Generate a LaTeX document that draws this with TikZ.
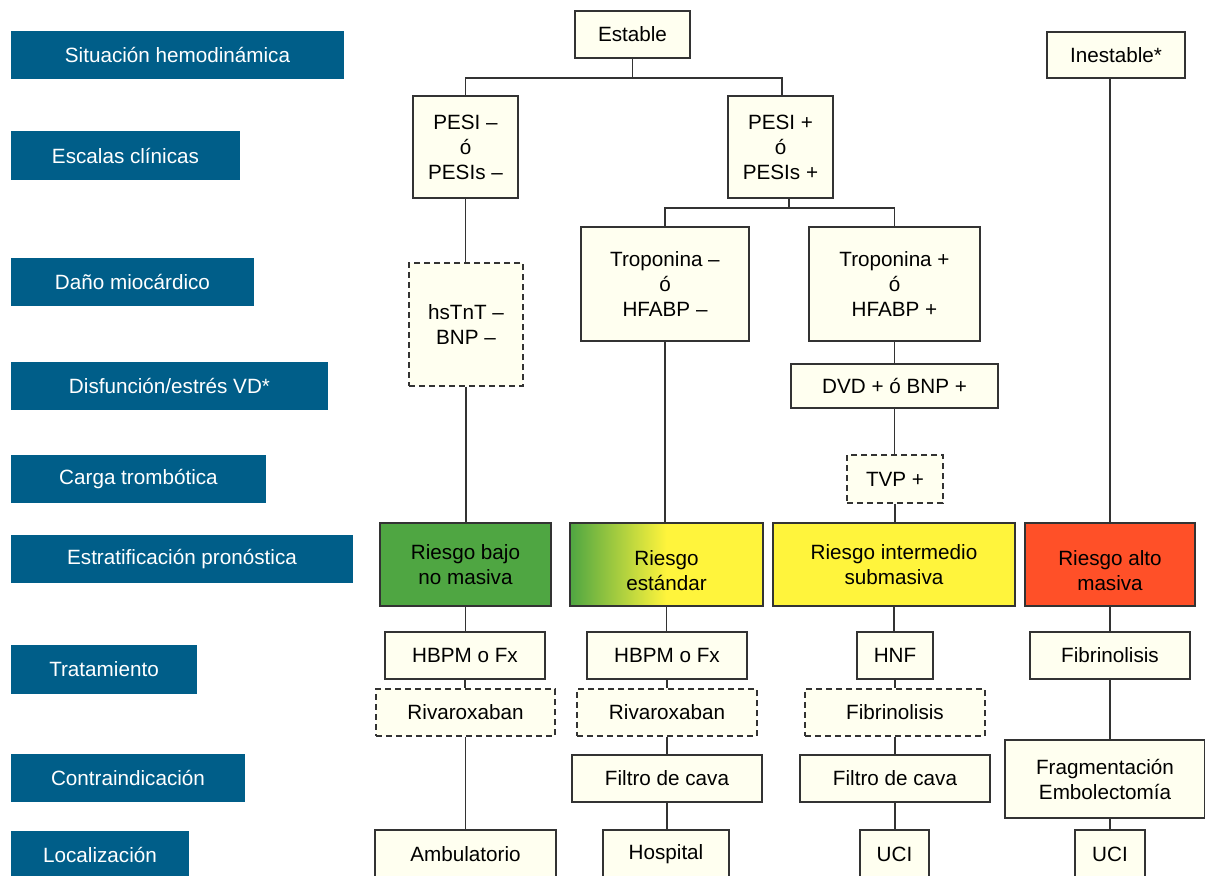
\documentclass[tikz,border=0pt]{standalone}
\usepackage{fontspec}
\setmainfont{Liberation Sans}
\usetikzlibrary{calc}
\definecolor{lblue}{HTML}{005E89}
\definecolor{cream}{HTML}{FFFFF0}
\definecolor{rgreen}{HTML}{4FA642}
\definecolor{ryellow}{HTML}{FFF43C}
\definecolor{rred}{HTML}{FF5028}
\definecolor{edge}{HTML}{333333}
\newcommand{\lowtext}[1]{\raisebox{-6pt}[\height][\depth]{\begin{tabular}{@{}c@{}}#1\end{tabular}}}
\tikzset{
  wh/.style 2 args={minimum width=#1*0.75pt, minimum height=#2*0.75pt},
  lbl/.style={fill=lblue, text=white, inner sep=0pt, align=center, font=\fontsize{15.5}{18.75}\selectfont},
  box/.style={draw=edge, fill=cream, line width=0.95pt, inner sep=0pt, align=center, font=\fontsize{15.5}{18.75}\selectfont},
  dbox/.style={box, dash pattern=on 4.5pt off 3pt},
  link/.style={draw=edge, line width=0.95pt},
}
\begin{document}
\begin{tikzpicture}[x=0.75pt,y=-0.75pt]
\useasboundingbox (0,0) rectangle (1205,875);
\clip (0,0) rectangle (1205,875);
% left labels
\node[lbl, wh={333}{48}] (l1) at (177.5,55) {Situación hemodinámica};
\node[lbl, wh={229}{49}] (l2) at (125.5,155.5) {Escalas clínicas};
\node[lbl, wh={243}{48}] (l3) at (132.5,282) {Daño miocárdico};
\node[lbl, wh={317}{48}] (l4) at (169.5,386) {Disfunción/estrés VD*};
\node[lbl, wh={255}{48}] (l5) at (138.5,479) {Carga trombótica};
\node[lbl, wh={342}{48}] (l6) at (182,559) {Estratificación pronóstica};
\node[lbl, wh={186}{49}] (l7) at (104,669.5) {Tratamiento};
\node[lbl, wh={234}{48}] (l8) at (128,778) {Contraindicación};
\node[lbl, wh={178}{48}] (l9) at (100,855) {Localización};
% top
\node[box, wh={115}{47}] (est) at (632.5,34.5) {Estable};
\node[box, wh={138}{46}] (ine) at (1116,55) {Inestable*};
\node[box, wh={105}{102}] (pm) at (465.5,147) {PESI –\\ó\\PESIs –};
\node[box, wh={105}{102}] (pp) at (780.5,147) {PESI +\\ó\\PESIs +};
\node[dbox, wh={114}{123}] (hs) at (466,324.5) {hsTnT –\\BNP –};
\node[box, wh={168}{114}] (tm) at (665,284) {Troponina –\\ó\\HFABP –};
\node[box, wh={171}{114}] (tp) at (894.5,284) {Troponina +\\ó\\HFABP +};
\node[box, wh={207}{44}] (dvd) at (894.5,386) {DVD + ó BNP +};
\node[dbox, wh={96}{48}] (tvp) at (895,479) {TVP +};
% risk
\node[box, fill=rgreen, wh={171}{83}] (rb) at (465.5,564.5) {Riesgo bajo\\no masiva};
\node[box, fill=ryellow, wh={193}{83},
  path picture={
    \path (path picture bounding box.south west) coordinate (sw)
          (path picture bounding box.north east) coordinate (ne);
    \shade[left color=rgreen, right color=ryellow] (sw) rectangle ($(sw|-ne)!0.5!(ne)$);
  }] (re) at (666.5,564.5) {\lowtext{Riesgo\\estándar}};
\node[box, fill=ryellow, wh={242}{83}] (ri) at (894,564.5) {Riesgo intermedio\\submasiva};
\node[box, fill=rred, wh={170}{83}] (ra) at (1110,564.5) {\lowtext{Riesgo alto\\masiva}};
% treatment
\node[box, wh={160}{47}] (hb1) at (465,655.5) {HBPM o Fx};
\node[box, wh={160}{47}] (hb2) at (667,655.5) {HBPM o Fx};
\node[box, wh={76}{47}] (hnf) at (895,655.5) {HNF};
\node[box, wh={160}{47}] (fb2) at (1110,655.5) {Fibrinolisis};
\node[dbox, wh={179}{47}] (rv1) at (465.5,712.5) {Rivaroxaban};
\node[dbox, wh={180}{47}] (rv2) at (667,712.5) {Rivaroxaban};
\node[dbox, wh={180}{47}] (fb1) at (895,712.5) {Fibrinolisis};
\node[box, wh={190}{47}] (fc1) at (667,778.5) {Filtro de cava};
\node[box, wh={190}{47}] (fc2) at (895,778.5) {Filtro de cava};
\node[box, wh={200}{78}] (frag) at (1105,779) {Fragmentación\\Embolectomía};
\node[box, wh={181}{48}] (amb) at (465.5,854) {Ambulatorio};
\node[box, wh={126}{48}] (hosp) at (666,854) {Hospital};
\node[box, wh={69}{48}] (uci1) at (894.5,854) {UCI};
\node[box, wh={70}{48}] (uci2) at (1110,854) {UCI};
% connectors
\coordinate (j1) at (632.5,78);
\coordinate (j2) at (789,208);
\draw[link] (est.south) -- (j1);
\draw[link] (pm.north) |- (j1);
\draw[link] (pp.north -| 782,0) |- (j1);
\draw[link] (j2 |- pp.south) -- (j2);
\draw[link] (tm.north) |- (j2);
\draw[link] (tp.north) |- (j2);
\draw[link] (pm.south) -- (pm.south |- hs.north);
\draw[link] (hs.south) -- (hs.south |- rb.north);
\draw[link] (tm.south) -- (tm.south |- re.north);
\draw[link] (tp.south) -- (tp.south |- dvd.north);
\draw[link] (dvd.south) -- (dvd.south |- tvp.north);
\draw[link] (tvp.south) -- (tvp.south |- ri.north);
\draw[link] (ra.north |- ine.south) -- (ra.north);
\draw[link] (rb.south) -- (rb.south |- hb1.north);
\draw[link] (hb1.south) -- (hb1.south |- rv1.north);
\draw[link] (rv1.south) -- (rv1.south |- amb.north);
\draw[link] (re.south) -- (re.south |- hb2.north);
\draw[link] (hb2.south) -- (hb2.south |- rv2.north);
\draw[link] (rv2.south) -- (rv2.south |- fc1.north);
\draw[link] (fc1.south) -- (fc1.south |- hosp.north);
\draw[link] (ri.south) -- (ri.south |- hnf.north);
\draw[link] (hnf.south) -- (hnf.south |- fb1.north);
\draw[link] (fb1.south) -- (fb1.south |- fc2.north);
\draw[link] (fc2.south) -- (fc2.south |- uci1.north);
\draw[link] (ra.south) -- (ra.south |- fb2.north);
\draw[link] (fb2.south) -- (fb2.south |- frag.north);
\draw[link] (ra.south |- frag.south) -- (ra.south |- uci2.north);
\end{tikzpicture}
\end{document}
